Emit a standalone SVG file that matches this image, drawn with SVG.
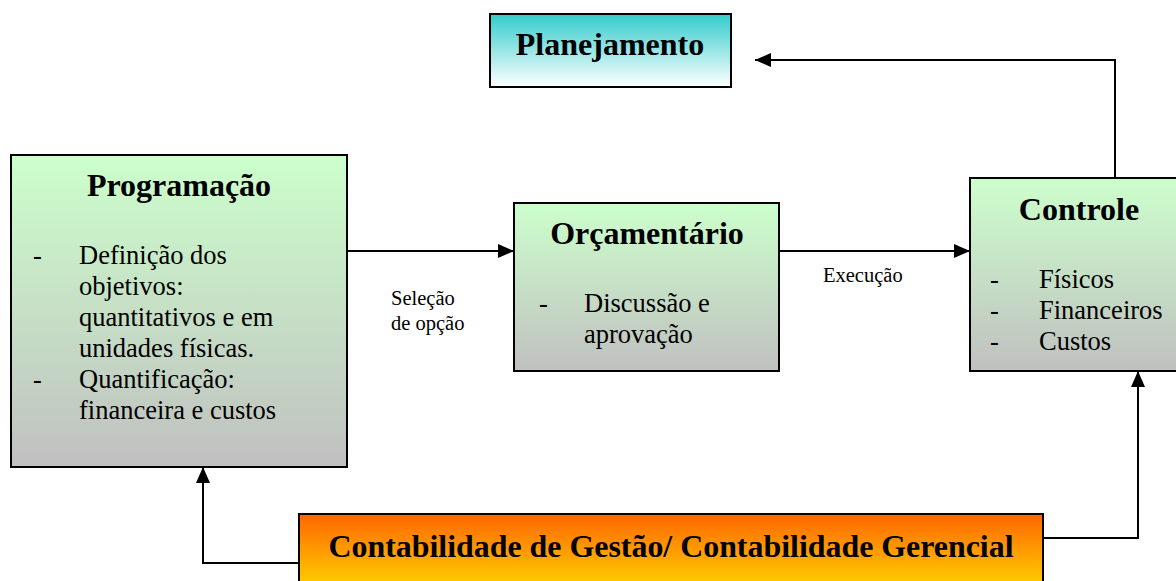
<svg xmlns="http://www.w3.org/2000/svg" width="1176" height="581" viewBox="0 0 1176 581">
<style>
.box{stroke:#000;stroke-width:2}
text{font-family:'Liberation Serif','Times New Roman',serif;fill:#000}
.title{font-weight:bold;font-size:32px;text-anchor:middle}
.body{font-size:26.5px}
.lbl{font-size:20.5px}
.conn{fill:none;stroke:#000;stroke-width:2}
</style>
<defs>
<linearGradient id="gTeal" x1="0" y1="0" x2="0" y2="1"><stop offset="0" stop-color="#33cccc"/><stop offset="1" stop-color="#ffffff"/></linearGradient>
<linearGradient id="gGreen" x1="0" y1="0" x2="0" y2="1"><stop offset="0" stop-color="#ccffcc"/><stop offset="1" stop-color="#c0c0c0"/></linearGradient>
<linearGradient id="gOrange" x1="0" y1="0" x2="0" y2="1"><stop offset="0" stop-color="#ff6600"/><stop offset="1" stop-color="#ffcc00"/></linearGradient>
<marker id="arr" markerWidth="16" markerHeight="14" refX="16" refY="7" orient="auto" markerUnits="userSpaceOnUse" viewBox="0 0 16 14"><path d="M0,0 L16,7 L0,14 z" fill="#000"/></marker>
</defs>
<g id="connectors">
<path class="conn" d="M1115,178 V60 H755" marker-end="url(#arr)"/>
<path class="conn" d="M347,251 H514" marker-end="url(#arr)"/>
<path class="conn" d="M779,251 H970" marker-end="url(#arr)"/>
<path class="conn" d="M299,563 H203 V467" marker-end="url(#arr)"/>
<path class="conn" d="M1043,538 H1138 V371" marker-end="url(#arr)"/>
<text class="lbl" x="391" y="305">Seleção</text>
<text class="lbl" x="391" y="330">de opção</text>
<text class="lbl" x="823" y="282">Execução</text>
</g>
<g id="planejamento">
<rect class="box" x="490" y="14" width="241" height="73" fill="url(#gTeal)"/>
<text class="title" x="610" y="55">Planejamento</text>
</g>
<g id="programacao">
<rect class="box" x="11" y="155" width="336" height="312" fill="url(#gGreen)"/>
<text class="title" x="179" y="196">Programação</text>
<text class="body" x="33" y="264">-</text>
<text class="body" x="79" y="264">Definição dos</text>
<text class="body" x="79" y="295">objetivos:</text>
<text class="body" x="79" y="326">quantitativos e em</text>
<text class="body" x="79" y="357">unidades físicas.</text>
<text class="body" x="33" y="388">-</text>
<text class="body" x="79" y="388">Quantificação:</text>
<text class="body" x="79" y="419">financeira e custos</text>
</g>
<g id="orcamentario">
<rect class="box" x="514" y="203" width="265" height="168" fill="url(#gGreen)"/>
<text class="title" x="647" y="244">Orçamentário</text>
<text class="body" x="539" y="312">-</text>
<text class="body" x="584" y="312">Discussão e</text>
<text class="body" x="584" y="343">aprovação</text>
</g>
<g id="controle">
<rect class="box" x="970" y="178" width="210" height="193" fill="url(#gGreen)"/>
<text class="title" x="1079" y="220">Controle</text>
<text class="body" x="990" y="288">-</text>
<text class="body" x="1039" y="288">Físicos</text>
<text class="body" x="990" y="319">-</text>
<text class="body" x="1039" y="319">Financeiros</text>
<text class="body" x="990" y="350">-</text>
<text class="body" x="1039" y="350">Custos</text>
</g>
<g id="contabilidade">
<rect class="box" x="299" y="514" width="744" height="70" fill="url(#gOrange)"/>
<text class="title" x="671" y="557" font-size="33" textLength="685" lengthAdjust="spacingAndGlyphs">Contabilidade de Gestão/ Contabilidade Gerencial</text>
</g>
</svg>
